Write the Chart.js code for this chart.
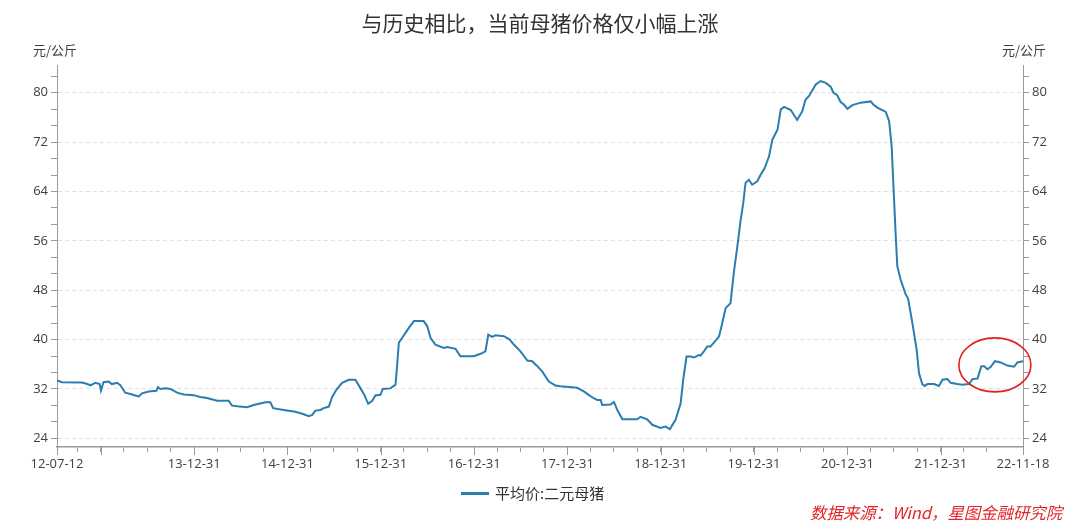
<!DOCTYPE html>
<html>
<head>
<meta charset="utf-8">
<script src="https://cdn.jsdelivr.net/npm/chart.js@4.4.0/dist/chart.umd.min.js"></script>
<style>
body{margin:0;background:#fff;}
#wrap{position:relative;width:1080px;height:531px;font-family:"Noto Sans CJK SC","Open Sans",sans-serif;color:#333;}
canvas{position:absolute;left:0;top:0;}
.t{position:absolute;white-space:nowrap;}
#title{left:0;width:1080px;top:4px;text-align:center;font-size:21px;line-height:36px;color:#333;}
.unit{top:40px;font-size:13px;line-height:20px;width:60px;text-align:center;color:#404040;}
#legend{left:461px;top:482px;font-size:15px;line-height:22px;color:#333;}
#legend i{display:inline-block;width:28px;height:3px;background:#2a7daf;vertical-align:middle;margin-right:6px;position:relative;top:-1px;}
#source{left:810px;top:499px;font-size:16.4px;line-height:26px;color:#e42327;font-style:italic;}
</style>
</head>
<body>
<div id="wrap">
  <canvas id="chart" width="1080" height="531"></canvas>
  <div class="t" id="title">与历史相比，当前母猪价格仅小幅上涨</div>
  <div class="t unit" style="left:25px">元/公斤</div>
  <div class="t unit" style="left:994px">元/公斤</div>
  <div class="t" id="legend"><i></i>平均价:二元母猪</div>
  <div class="t" id="source">数据来源：Wind，星图金融研究院</div>
</div>
<script>
// 平均价:二元母猪 (元/公斤)
const dates = [
  '2012-07-12','2012-08-01','2012-10-18','2012-11-07','2012-11-20','2012-12-09','2012-12-26','2012-12-31',
  '2013-01-10','2013-01-30','2013-02-12','2013-03-04','2013-03-17','2013-04-05','2013-04-25','2013-05-15',
  '2013-05-28','2013-06-10','2013-07-06','2013-08-05','2013-08-11','2013-08-20','2013-09-09','2013-09-29',
  '2013-10-25','2013-11-20','2013-12-29','2014-01-24','2014-02-19','2014-03-31','2014-05-15','2014-05-28',
  '2014-06-17','2014-07-26','2014-08-21','2014-10-06','2014-10-25','2014-11-05','2014-12-16','2015-01-31',
  '2015-03-05','2015-03-24','2015-04-07','2015-04-19','2015-05-09','2015-05-22','2015-06-11','2015-06-24',
  '2015-07-11','2015-08-02','2015-08-28','2015-09-23','2015-10-13','2015-10-28','2015-11-12','2015-11-28',
  '2015-12-10','2015-12-30','2016-01-08','2016-02-07','2016-02-27','2016-03-04','2016-03-11','2016-03-24',
  '2016-04-06','2016-04-19','2016-05-09','2016-06-16','2016-06-30','2016-07-13','2016-08-01','2016-09-03',
  '2016-09-16','2016-10-19','2016-11-07','2016-12-29','2017-01-25','2017-02-13','2017-02-24','2017-03-11',
  '2017-03-24','2017-04-26','2017-05-19','2017-06-04','2017-06-30','2017-07-27','2017-08-15','2017-09-04',
  '2017-09-23','2017-10-19','2017-11-14','2017-12-04','2018-02-07','2018-03-05','2018-03-25','2018-04-13',
  '2018-04-27','2018-05-10','2018-05-16','2018-06-18','2018-07-01','2018-07-14','2018-08-03','2018-09-30',
  '2018-10-13','2018-11-08','2018-11-28','2018-12-30','2019-01-19','2019-02-05','2019-02-27','2019-03-19',
  '2019-03-29','2019-04-11','2019-04-27','2019-05-10','2019-05-29','2019-06-05','2019-06-18','2019-07-01',
  '2019-07-14','2019-07-27','2019-08-16','2019-08-29','2019-09-11','2019-09-30','2019-10-13','2019-10-27',
  '2019-11-09','2019-11-19','2019-11-28','2019-12-11','2019-12-24','2020-01-13','2020-01-26','2020-02-11',
  '2020-02-28','2020-03-12','2020-04-01','2020-04-14','2020-04-27','2020-05-23','2020-06-17','2020-07-07',
  '2020-07-20','2020-08-02','2020-08-29','2020-09-17','2020-10-07','2020-10-26','2020-11-06','2020-11-21',
  '2020-12-04','2020-12-17','2020-12-31','2021-01-19','2021-02-21','2021-04-01','2021-04-11','2021-04-27',
  '2021-05-30','2021-06-12','2021-06-22','2021-06-29','2021-07-08','2021-07-14','2021-07-27','2021-08-16',
  '2021-08-25','2021-09-11','2021-09-28','2021-10-07','2021-10-20','2021-10-29','2021-11-09','2021-12-05',
  '2021-12-24','2022-01-07','2022-01-26','2022-02-08','2022-03-06','2022-03-25','2022-04-21','2022-05-04',
  '2022-05-24','2022-06-08','2022-06-19','2022-07-02','2022-07-15','2022-07-31','2022-08-23','2022-09-18',
  '2022-10-14','2022-10-27','2022-11-18'
];
const prices = [
  33.4,33.1,33.05,32.8,32.6,33.0,32.8,31.75,
  33.1,33.2,32.8,33.0,32.6,31.4,31.2,30.95,
  30.8,31.3,31.6,31.7,32.3,32.0,32.1,32.0,
  31.4,31.1,31.0,30.7,30.55,30.1,30.1,29.3,
  29.2,29.05,29.4,29.85,29.85,28.9,28.6,28.3,
  27.9,27.6,27.8,28.5,28.6,28.9,29.15,30.7,
  31.9,33.0,33.5,33.5,32.1,31.05,29.6,30.1,
  30.95,31.05,32.0,32.1,32.7,35.7,39.5,40.3,
  41.1,41.9,43.0,43.0,42.2,40.3,39.2,38.65,
  38.8,38.5,37.3,37.3,37.7,38.1,40.8,40.45,
  40.7,40.55,40.0,39.2,38.1,36.6,36.5,35.7,
  34.85,33.2,32.55,32.45,32.2,31.6,31.0,30.5,
  30.2,30.2,29.4,29.5,29.9,28.6,27.1,27.1,
  27.5,27.1,26.2,25.7,25.9,25.5,27.0,29.7,
  33.5,37.25,37.25,37.1,37.5,37.4,38.1,38.9,
  38.9,39.5,40.5,42.7,45.1,45.9,50.8,55.1,
  59.4,62.1,65.4,65.9,65.1,65.65,66.7,67.8,
  69.7,72.4,74.0,77.3,77.7,77.2,75.6,77.0,
  78.9,79.45,81.35,81.9,81.6,81.0,80.0,79.6,
  78.5,78.1,77.4,78.0,78.4,78.6,78.1,77.6,
  76.9,75.4,71.3,64.8,56.7,51.9,49.7,47.3,
  46.7,42.7,38.3,34.55,32.8,32.5,32.8,32.8,
  32.5,33.5,33.6,33.0,32.8,32.7,32.8,33.6,
  33.7,35.7,35.7,35.2,35.6,36.5,36.3,35.8,
  35.6,36.3,36.5
];
// 横轴标注的日期与纵轴刻度
const xLabelDates = ['2012-07-12','2013-12-31','2014-12-31','2015-12-31','2016-12-31',
  '2017-12-31','2018-12-31','2019-12-31','2020-12-31','2021-12-31','2022-11-18'];
const yLabels = [24, 32, 40, 48, 56, 64, 72, 80];
const yMin = 22.6, yMax = 84.5;

const dayNum = s => Date.parse(s + 'T00:00:00Z') / 86400000;
const fmt = d => new Date(d * 86400000).toISOString().slice(2, 10);

const xMin = dayNum(dates[0]);
const xMax = dayNum(dates[dates.length - 1]);
const labelDays = xLabelDates.map(dayNum);

// quarter ends as tick marks, year ends get a longer tick
const xTicks = [xMin];
const yearEnds = [xMin, xMax];
for (let y = 2012; y <= 2022; y++) {
  for (const md of ['03-31', '06-30', '09-30', '12-31']) {
    const v = dayNum(y + '-' + md);
    if (v > xMin && v < xMax - 60) {
      xTicks.push(v);
      if (md === '12-31') yearEnds.push(v);
    }
  }
}
xTicks.push(xMax);

// minor ticks: 3 per major step
const yTicks = [];
for (let k = 0; 24 + k * 8 / 3 <= yMax; k++) yTicks.push(24 + k * 8 / 3);
const isMajor = v => yLabels.some(l => Math.abs(l - v) < 1e-6);

const yAxis = (pos) => ({
  position: pos,
  min: yMin,
  max: yMax,
  afterBuildTicks: s => { s.ticks = yTicks.map(v => ({ value: v })); },
  afterFit: s => { s.width = 57; },
  grid: {
    drawOnChartArea: pos === 'left',
    color: ctx => (ctx.tick && isMajor(ctx.tick.value)) ? '#e2e2e2' : 'rgba(0,0,0,0)',
    tickColor: '#9a9a9a',
    tickLength: 6
  },
  border: { display: true, color: '#9a9a9a', width: 1, dash: [4, 3] },
  ticks: {
    autoSkip: false,
    padding: 3,
    color: '#404040',
    font: { family: 'Open Sans', size: 13 },
    callback: v => isMajor(v) ? String(Math.round(v)) : ''
  }
});

const extrasPlugin = {
  id: 'extras',
  afterDatasetsDraw(chart) {
    const ctx = chart.ctx;
    const xs = chart.scales.x;
    // longer tick marks at year ends
    ctx.save();
    ctx.strokeStyle = '#9a9a9a';
    ctx.lineWidth = 1;
    ctx.beginPath();
    yearEnds.forEach(v => {
      const px = Math.round(xs.getPixelForValue(v)) + 0.5;
      ctx.moveTo(px, xs.top);
      ctx.lineTo(px, xs.top + 8);
    });
    ctx.stroke();
    // red highlight around the latest readings
    const cx = xs.getPixelForValue(dayNum('2022-07-31'));
    const cy = chart.scales.y.getPixelForValue(35.9);
    ctx.beginPath();
    ctx.ellipse(cx, cy, 36, 27, 0, 0, Math.PI * 2);
    ctx.strokeStyle = '#e3201e';
    ctx.lineWidth = 1.6;
    ctx.stroke();
    ctx.restore();
  }
};

new Chart(document.getElementById('chart'), {
  type: 'line',
  data: {
    datasets: [{
      label: '平均价:二元母猪',
      data: dates.map((d, i) => ({ x: dayNum(d), y: prices[i] })),
      borderColor: '#2a7daf',
      borderWidth: 2,
      pointRadius: 0,
      tension: 0,
      fill: false,
      yAxisID: 'y'
    }]
  },
  options: {
    responsive: false,
    animation: false,
    layout: { padding: { top: 65, left: 0, right: 0, bottom: 0 } },
    plugins: { legend: { display: false }, title: { display: false }, tooltip: { enabled: false } },
    scales: {
      x: {
        type: 'linear',
        min: xMin,
        max: xMax,
        afterBuildTicks: s => { s.ticks = xTicks.map(v => ({ value: v })); },
        afterFit: s => { s.height = 84; },
        grid: { drawOnChartArea: false, tickColor: '#9a9a9a', tickLength: 5 },
        border: { display: true, color: '#9a9a9a', width: 1.5 },
        ticks: {
          autoSkip: false,
          maxRotation: 0,
          padding: 4,
          color: '#404040',
          font: { family: 'Open Sans', size: 13 },
          callback: v => labelDays.includes(v) ? fmt(v) : ''
        }
      },
      y: yAxis('left'),
      y2: yAxis('right')
    }
  },
  plugins: [extrasPlugin]
});
</script>
</body>
</html>
